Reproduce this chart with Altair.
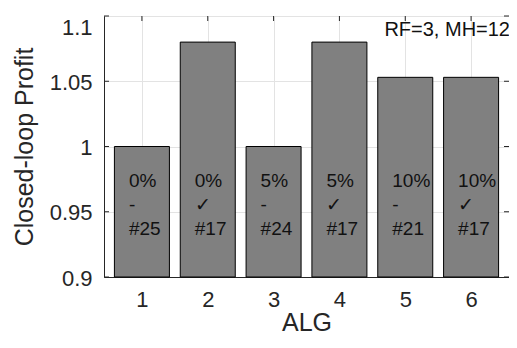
import altair as alt
import pandas as pd

alg = [1, 2, 3, 4, 5, 6]
profit = [1.0, 1.08, 1.0, 1.08, 1.053, 1.053]
pct = ["0%", "0%", "5%", "5%", "10%", "10%"]
mark = ["-", "\u2713", "-", "\u2713", "-", "\u2713"]
num = ["#25", "#17", "#24", "#17", "#21", "#17"]
x_ticks = [1, 2, 3, 4, 5, 6]
y_ticks = [0.9, 0.95, 1.0, 1.05, 1.1]
annotation = "RF=3, MH=12"

W, H = 405, 261
FONT = "Liberation Sans"
DARK = "#262626"
XT, YT = "ALG", "Closed-loop Profit"

df = pd.DataFrame({
    "alg": alg,
    "profit": profit,
    "base": [0.9] * len(alg),
    "label": [f"{p}\n{m}\n{n}" for p, m, n in zip(pct, mark, num)],
    "ly": [0.9736] * len(alg),
})
xt = pd.DataFrame({"v": x_ticks})
yt = pd.DataFrame({"v": y_ticks})

xscale = alt.Scale(domain=[0.5, 6.5], nice=False, zero=False)
yscale = alt.Scale(domain=[0.9, 1.1], nice=False, zero=False)

bars = alt.Chart(df).mark_bar(size=55, color="#808080", stroke="black", strokeWidth=1).encode(
    x=alt.X("alg:Q", scale=xscale, title=XT, axis=alt.Axis(
        values=x_ticks, grid=True, tickSize=0, format="d",
        labelPadding=12, titlePadding=0)),
    y=alt.Y("profit:Q", scale=yscale, title=YT, axis=alt.Axis(
        values=y_ticks, grid=True, tickSize=0, format="~g",
        labelPadding=12, titlePadding=12, labelOffset=1,
        labelBaseline=alt.ExprRef("datum.value >= 1.1 ? 'top' : 'middle'"))),
    y2="base:Q",
)

labels = alt.Chart(df).mark_text(
    align="left", baseline="middle", dx=-13, lineBreak="\n", lineHeight=24,
    fontSize=19, font=FONT, color="#111111"
).encode(
    x=alt.X("alg:Q", scale=xscale, title=XT),
    y=alt.Y("ly:Q", scale=yscale, title=YT),
    text="label:N",
)

ann = alt.Chart(pd.DataFrame({"t": [annotation]})).mark_text(
    align="right", baseline="top", fontSize=20, font=FONT, color="#111111"
).encode(x=alt.value(W + 1), y=alt.value(4), text="t:N")

left_ticks = alt.Chart(yt).mark_rule(color=DARK).encode(
    y=alt.Y("v:Q", scale=yscale, title=YT), x=alt.value(0), x2=alt.value(5))
right_ticks = alt.Chart(yt).mark_rule(color=DARK).encode(
    y=alt.Y("v:Q", scale=yscale, title=YT), x=alt.value(W), x2=alt.value(W - 5))
top_ticks = alt.Chart(xt).mark_rule(color=DARK).encode(
    x=alt.X("v:Q", scale=xscale, title=XT), y=alt.value(0), y2=alt.value(5))

chart = alt.layer(bars, labels, left_ticks, right_ticks, top_ticks, ann).properties(
    width=W, height=H,
    autosize=alt.AutoSizeParams(type="none"),
    padding={"left": 96, "top": 8, "right": 0, "bottom": 58},
).configure_view(stroke=DARK, strokeWidth=1).configure_axis(
    domainColor=DARK, gridColor="#e3e3e3", labelColor=DARK, titleColor=DARK,
    labelFont=FONT, titleFont=FONT, labelFontSize=22, titleFontSize=25,
    titleFontWeight="normal",
)

chart.save("out.html", embed_options={"renderer": "svg", "actions": False})
